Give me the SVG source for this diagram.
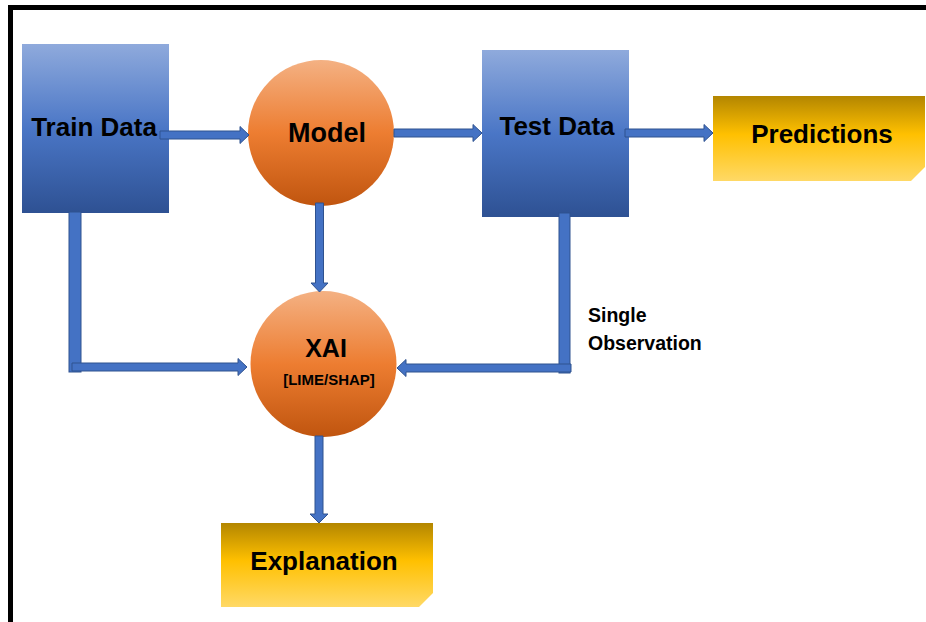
<svg xmlns="http://www.w3.org/2000/svg" width="926" height="622" viewBox="0 0 926 622">
<defs>
<linearGradient id="gBlue" x1="0" y1="0" x2="0" y2="1">
<stop offset="0" stop-color="#8FAADC"/>
<stop offset="0.5" stop-color="#4A76C6"/>
<stop offset="1" stop-color="#2E5193"/>
</linearGradient>
<linearGradient id="gOrange" x1="0" y1="0" x2="0" y2="1">
<stop offset="0" stop-color="#F4B183"/>
<stop offset="0.5" stop-color="#ED7D31"/>
<stop offset="1" stop-color="#C0550F"/>
</linearGradient>
<linearGradient id="gGold" x1="0" y1="0" x2="0" y2="1">
<stop offset="0" stop-color="#B38600"/>
<stop offset="0.45" stop-color="#FFC000"/>
<stop offset="1" stop-color="#FFD966"/>
</linearGradient>
</defs>
<style>
.lbl{font-family:"Liberation Sans",Arial,sans-serif;font-weight:bold;fill:#000;text-anchor:middle}
.arr{fill:#4472C4;stroke:#2F528F;stroke-width:1}
.frame{stroke:#000;stroke-width:5;fill:none}
</style>
<rect x="0" y="0" width="926" height="622" fill="#fff"/>
<path class="frame" d="M10.5,622 V7.5 H926"/>

<g id="train-data">
<rect x="22" y="44" width="147" height="169" fill="url(#gBlue)"/>
<text class="lbl" x="94" y="136" font-size="26">Train Data</text>
</g>

<g id="model">
<circle cx="321" cy="133" r="73" fill="url(#gOrange)"/>
<text class="lbl" x="327" y="142" font-size="27">Model</text>
</g>

<g id="test-data">
<rect x="482" y="50" width="147" height="167" fill="url(#gBlue)"/>
<text class="lbl" x="557" y="135" font-size="26">Test Data</text>
</g>

<g id="predictions">
<path d="M713,96 H925 V167 L911,181 H713 Z" fill="url(#gGold)"/>
<text class="lbl" x="822" y="143" font-size="26">Predictions</text>
</g>

<g id="xai">
<circle cx="323.5" cy="364" r="73" fill="url(#gOrange)"/>
<text class="lbl" x="326" y="357" font-size="25">XAI</text>
<text class="lbl" x="329" y="385" font-size="15">[LIME/SHAP]</text>
</g>

<g id="explanation">
<path d="M221,523 H433 V593 L419,607 H221 Z" fill="url(#gGold)"/>
<text class="lbl" x="324" y="570" font-size="26">Explanation</text>
</g>

<g id="single-observation-label">
<text class="lbl" style="text-anchor:start" x="588" y="322" font-size="19.5">Single</text>
<text class="lbl" style="text-anchor:start" x="588" y="350" font-size="19.5">Observation</text>
</g>

<g id="connectors">
<!-- Train -> Model -->
<polygon class="arr" points="160,131 240,131 240,126.5 249,135 240,143.5 240,139 160,139"/>
<!-- Model -> Test -->
<polygon class="arr" points="394,129 473,129 473,124.5 482,133 473,141.5 473,137 394,137"/>
<!-- Test -> Predictions -->
<polygon class="arr" points="625,129 704,129 704,124.5 713,133 704,141.5 704,137 625,137"/>
<!-- Model -> XAI -->
<polygon class="arr" points="315.5,203 323.5,203 323.5,283 328,283 319.5,292 311,283 315.5,283"/>
<!-- Train -> XAI -->
<rect class="arr" x="69" y="212" width="12" height="160"/>
<polygon class="arr" points="72,363 238,363 238,358.5 247,367 238,375.5 238,371 72,371"/>
<!-- Test -> XAI -->
<rect class="arr" x="559" y="213" width="11" height="160"/>
<polygon class="arr" points="571,364 406,364 406,359.5 397,368 406,376.5 406,372 571,372"/>
<!-- XAI -> Explanation -->
<polygon class="arr" points="315,436 323,436 323,514 328,514 319,523 310,514 315,514"/>
</g>
</svg>
